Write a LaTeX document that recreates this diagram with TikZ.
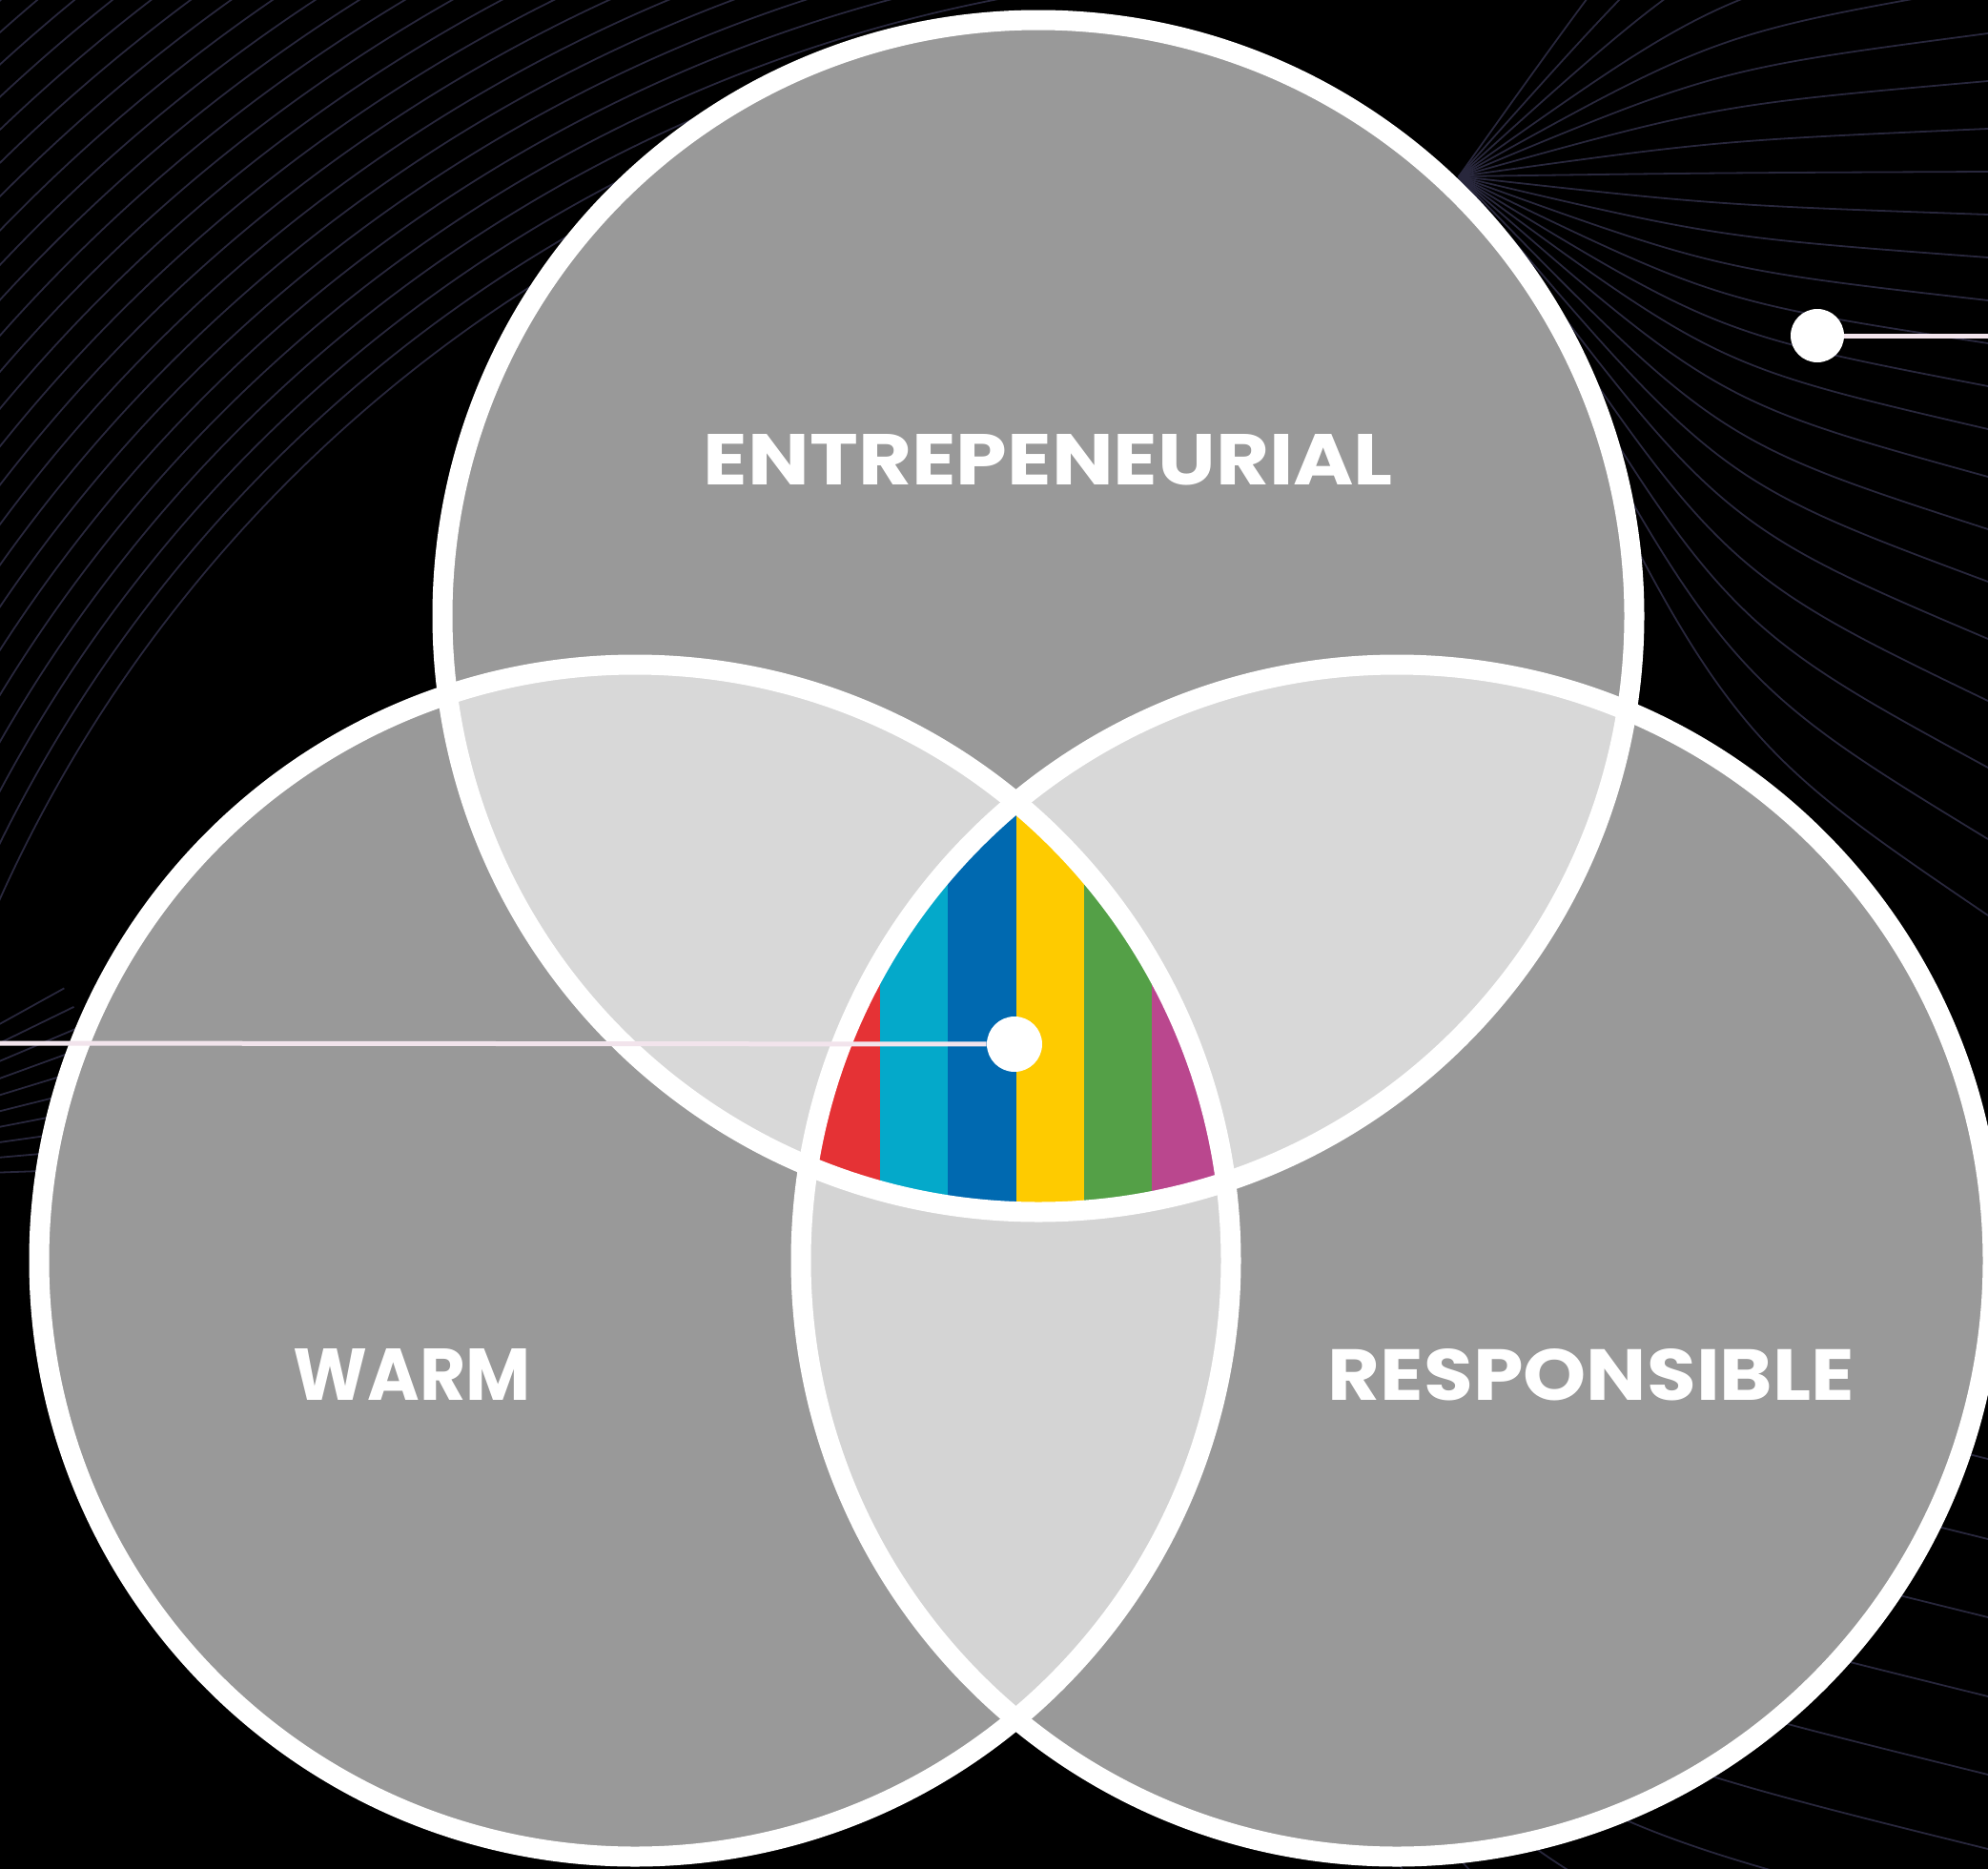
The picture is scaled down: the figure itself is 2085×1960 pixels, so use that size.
\documentclass[tikz,border=0pt]{standalone}
\usepackage{fontspec}
\setmainfont{Poppins}
\usepackage{graphicx}
\definecolor{cgray}{HTML}{999999}
\definecolor{clight}{HTML}{D8D8D8}
\definecolor{clightb}{HTML}{D4D4D4}
\definecolor{cred}{HTML}{E53235}
\definecolor{ccyan}{HTML}{04A9CA}
\definecolor{cblue}{HTML}{0069B0}
\definecolor{cyellow}{HTML}{FECB00}
\definecolor{cgreen}{HTML}{54A047}
\definecolor{cmagenta}{HTML}{BA478E}
\definecolor{decoc}{HTML}{28273C}
\definecolor{connc}{HTML}{F2E4EC}
\begin{document}
\begin{tikzpicture}[x=0.5pt,y=-0.5pt,
  deco/.style={draw=decoc, line width=0.9pt},
  ring/.style={draw=white, line width=10.5pt},
  lbl/.style={text=white, inner sep=0pt, anchor=base, font=\bfseries},
  dotnode/.style={circle, fill=white, inner sep=0pt, minimum size=#1},
  conn/.style={draw=connc, line width=2.5pt}]
\useasboundingbox (0,0) rectangle (2085,1960);
\fill[black] (0,0) rectangle (2085,1960);
\begin{scope}
\clip (0,0) rectangle (2085,1960);
% decorative background lines
\begin{scope}
\clip (0,0) -- (1050,0) -- (0,1080) -- cycle;
\foreach \r in {1480,1505,...,2080} \draw[deco] (1350,1550) circle (\r);
\end{scope}
\foreach \a in {2,5,...,29} \draw[deco] (-300,1240) -- ++(-\a:420);
\foreach \ye in {-320,-220,-140,-70,-15,35,85,135,180,225,270,315,360,405,450,500,555,610,670,735,805,880,960}
  \draw[deco] (1530,185) .. controls (1800,{185+0.75*(\ye-185)}) .. (2085,\ye);
\foreach \ye in {1530,1614,1696,1779,1861,1939,2020,2110,2210,2330}
  \draw[deco] (1150,1420) .. controls (1600,{\ye-120}) .. (2085,\ye);
% circles
\coordinate (T) at (1089,646);
\coordinate (L) at (666,1322);
\coordinate (R) at (1465,1322);
\fill[cgray] (T) circle (625);
\fill[cgray] (L) circle (625);
\fill[cgray] (R) circle (625);
\begin{scope}
\clip (T) circle (625);
\fill[clight] (L) circle (625);
\fill[clight] (R) circle (625);
\end{scope}
\begin{scope}
\clip (L) circle (625);
\fill[clightb] (R) circle (625);
\end{scope}
\begin{scope}
\clip (T) circle (625);
\clip (L) circle (625);
\clip (R) circle (625);
\fill[cred] (800,780) rectangle (923,1320);
\fill[ccyan] (923,780) rectangle (994,1320);
\fill[cblue] (994,780) rectangle (1065.5,1320);
\fill[cyellow] (1065.5,780) rectangle (1136.5,1320);
\fill[cgreen] (1136.5,780) rectangle (1207.5,1320);
\fill[cmagenta] (1207.5,780) rectangle (1340,1320);
\end{scope}
\draw[ring] (T) circle (625);
\draw[ring] (L) circle (625);
\draw[ring] (R) circle (625);
% labels
\node[lbl] (ent) at (1099.5,508) {\resizebox{361.5pt}{26.5pt}{ENTREPENEURIAL}};
\node[lbl] (warm) at (432.5,1468) {\resizebox{124.5pt}{27pt}{WARM}};
\node[lbl] (resp) at (1669,1468) {\resizebox{276pt}{27pt}{RESPONSIBLE}};
% pointers
\node[dotnode=29pt] (d1) at (1064,1095) {};
\node[dotnode=28pt] (d2) at (1906,352) {};
\coordinate (e1) at (0,1094);
\coordinate (e2) at (2085,352);
\draw[conn] (e1) -- (d1);
\draw[conn] (d2) -- (e2);
\end{scope}
\end{tikzpicture}
\end{document}
